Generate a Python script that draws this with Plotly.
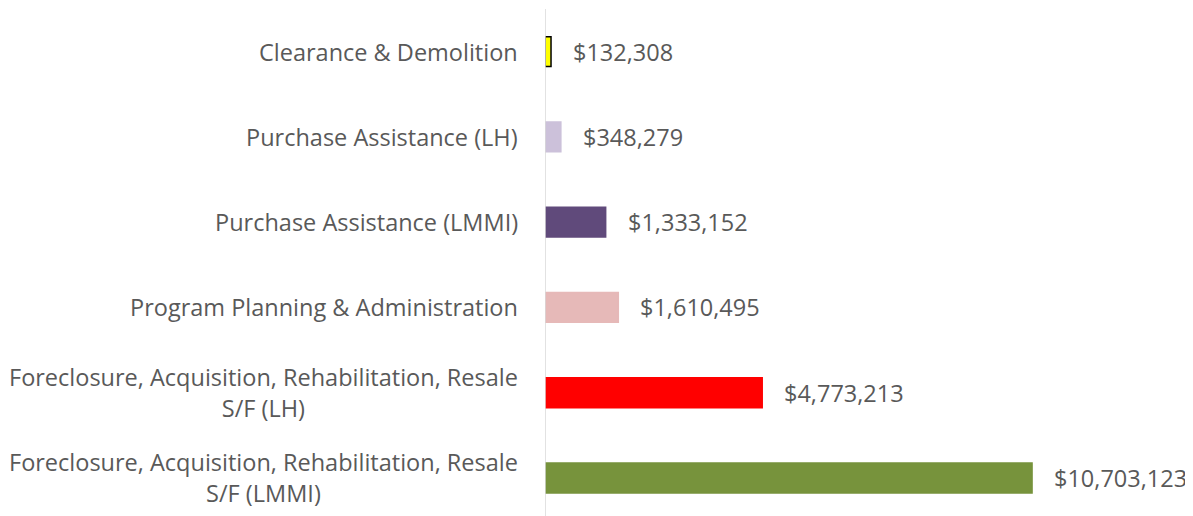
import plotly.graph_objects as go

categories = [
    "Clearance & Demolition",
    "Purchase Assistance (LH)",
    "Purchase Assistance (LMMI)",
    "Program Planning & Administration",
    "Foreclosure, Acquisition, Rehabilitation, Resale<br>S/F (LH)",
    "Foreclosure, Acquisition, Rehabilitation, Resale<br>S/F (LMMI)",
]
amounts = [132308, 348279, 1333152, 1610495, 4773213, 10703123]
bar_colors = ["#FFFF00", "#CCC1DA", "#604A7B", "#E6B9B8", "#FF0000", "#77933C"]
outline_colors = ["#000000", "#CCC1DA", "#604A7B", "#E6B9B8", "#FF0000", "#77933C"]

FONT = "Open Sans"
TEXT_COLOR = "#595959"
FONT_SIZE = 23.5

fig = go.Figure()
fig.add_trace(
    go.Bar(
        x=amounts,
        y=list(range(len(categories))),
        orientation="h",
        width=0.35,
        marker=dict(color=bar_colors, line=dict(color=outline_colors, width=1.5)),
        hoverinfo="skip",
    )
)

# value labels to the right of each bar
for i, val in enumerate(amounts):
    fig.add_annotation(
        x=val, y=i, xref="x", yref="y",
        text="${:,}".format(val),
        showarrow=False, xanchor="left", xshift=20,
        font=dict(family=FONT, size=FONT_SIZE, color=TEXT_COLOR),
    )

# category labels, multi-line ones centred like the original
for i, cat in enumerate(categories):
    fig.add_annotation(
        x=0, y=i, xref="x", yref="y",
        text=cat,
        showarrow=False, xanchor="right", align="center", xshift=-25,
        font=dict(family=FONT, size=FONT_SIZE, color=TEXT_COLOR),
    )

# page body has an 8px margin, so the figure is sized to fill the rest
fig.update_layout(
    width=1185,
    height=508,
    margin=dict(l=537, r=10, t=1, b=0),
    plot_bgcolor="white",
    paper_bgcolor="white",
    showlegend=False,
    xaxis=dict(range=[0, 14.02e6], visible=False),
    yaxis=dict(
        range=[5.446, -0.5],
        showticklabels=False,
        showgrid=False,
        zeroline=False,
        showline=False,
    ),
)
fig.add_shape(type="line", xref="x", yref="paper", x0=0, x1=0, y0=0, y1=1,
              line=dict(color="#D9D9D9", width=1.5))

fig.write_html("out.html")
